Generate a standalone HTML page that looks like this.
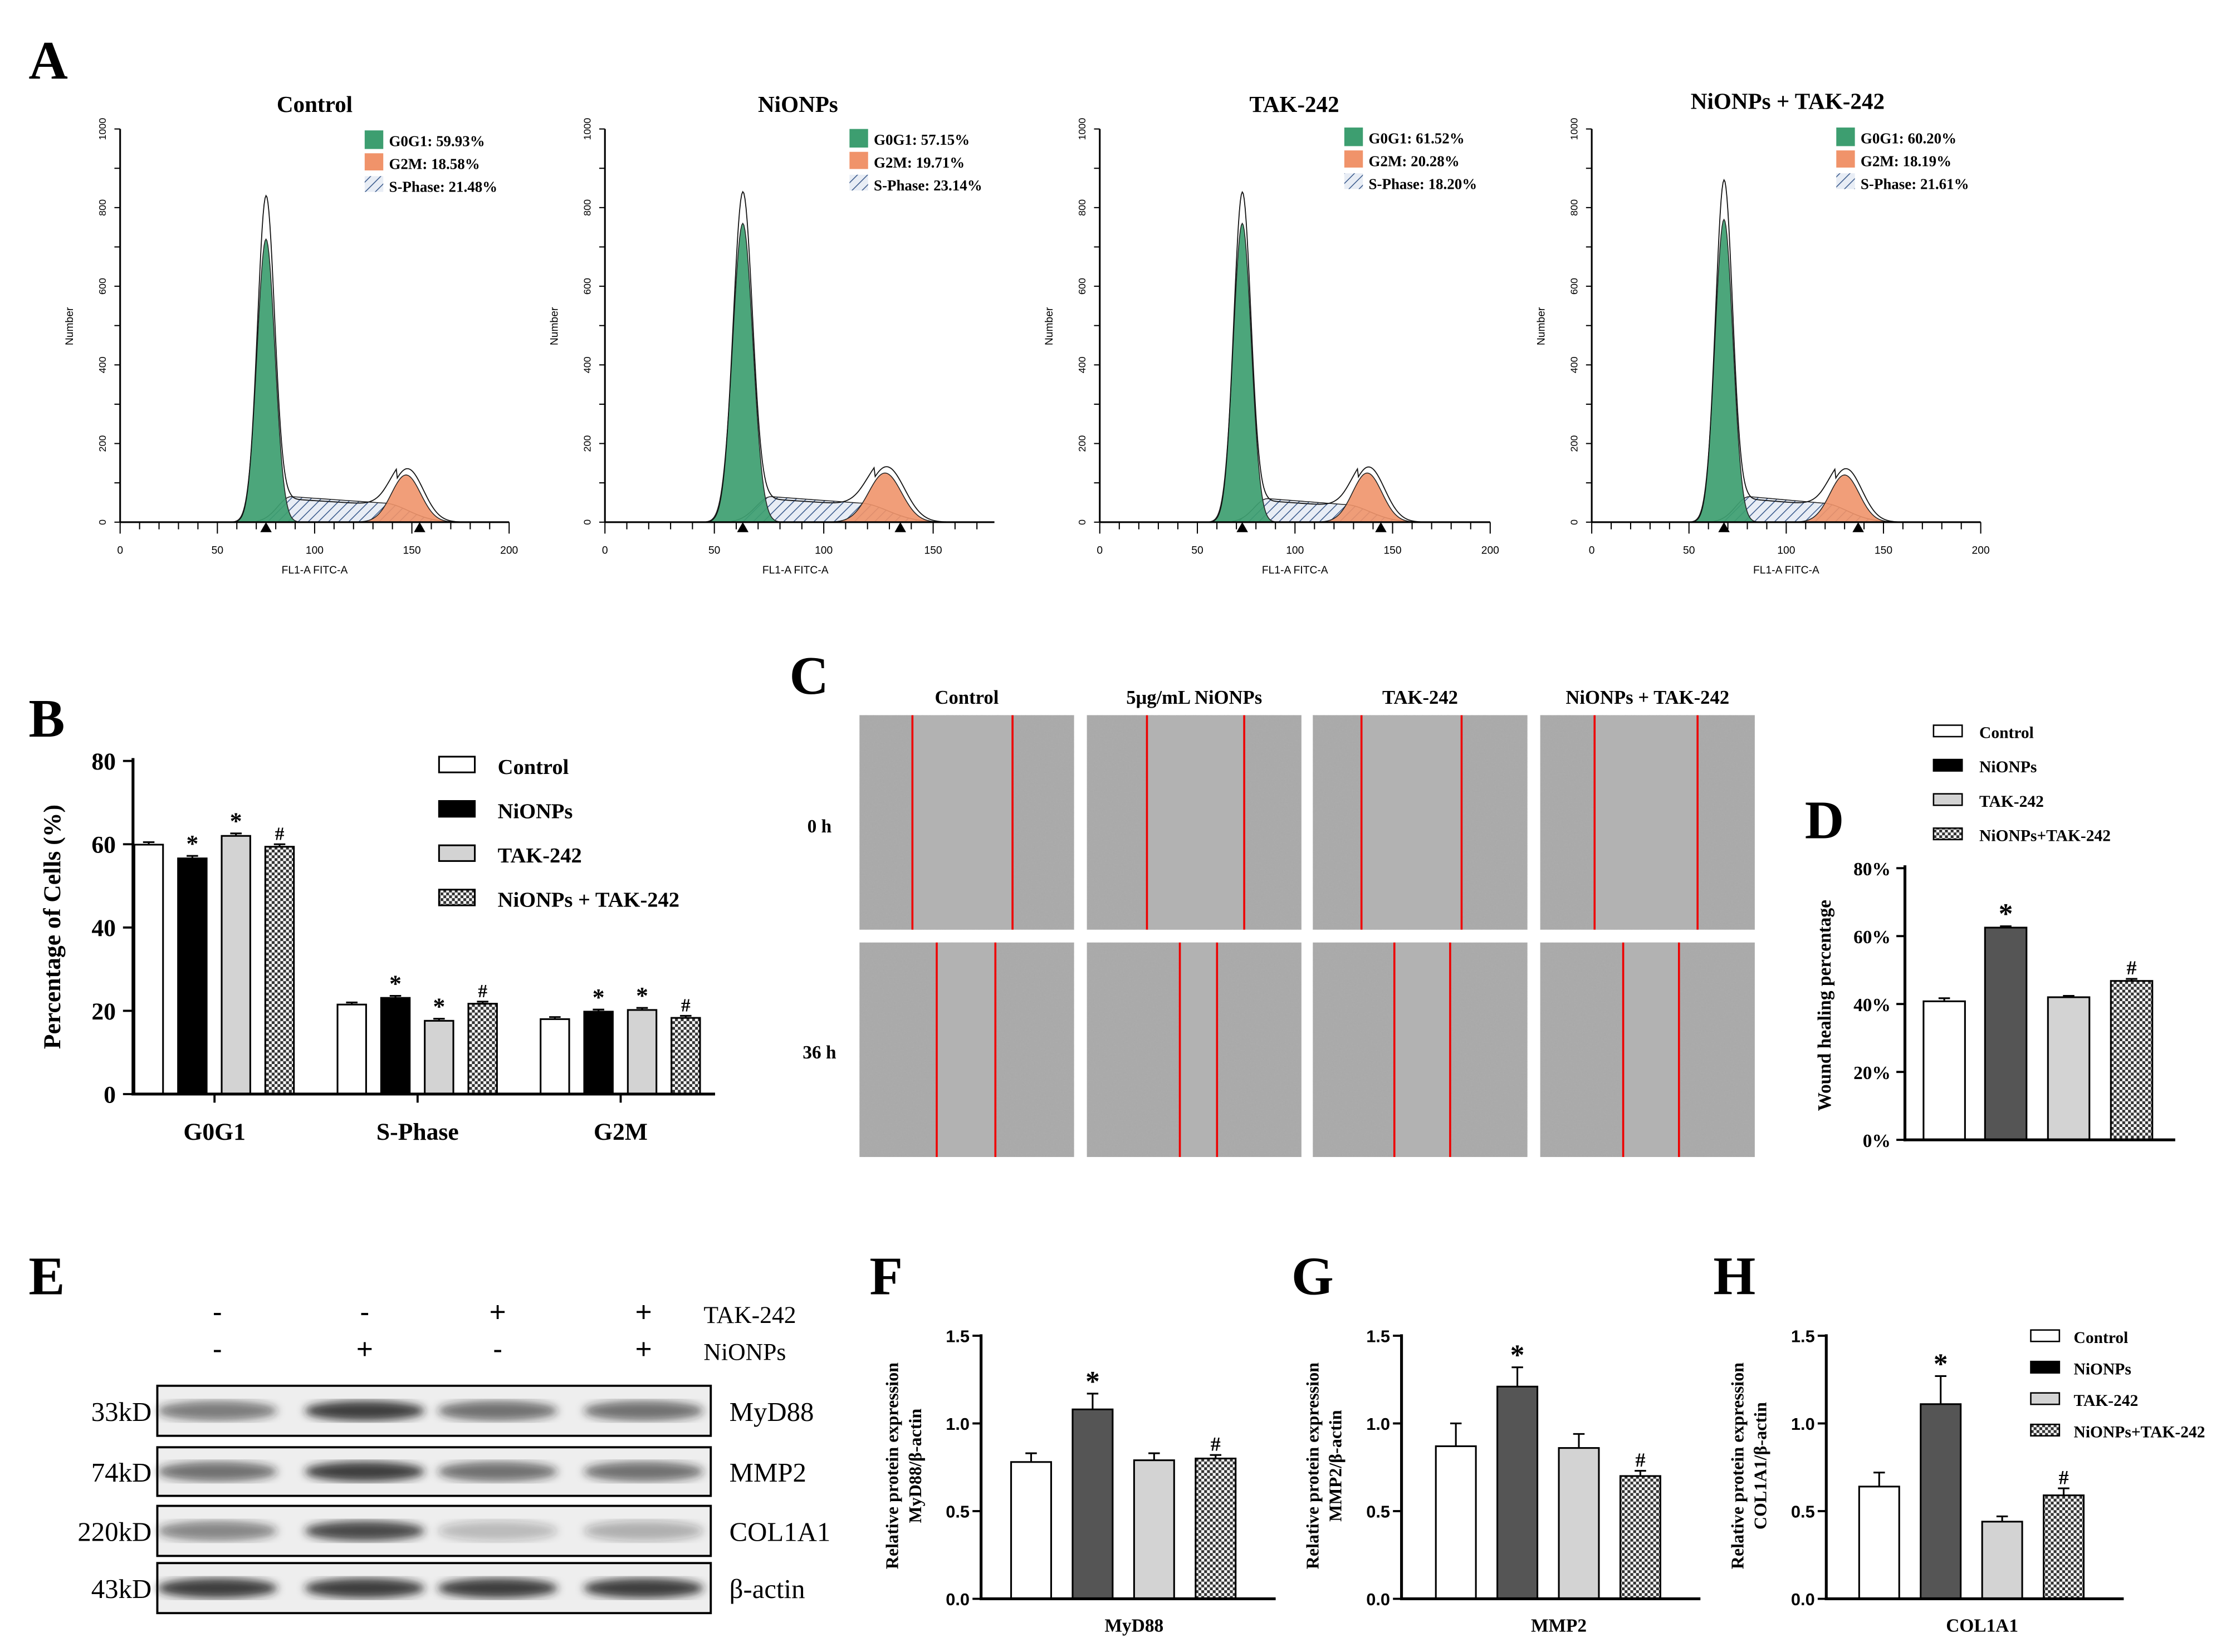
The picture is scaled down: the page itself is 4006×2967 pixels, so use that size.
<!DOCTYPE html>
<html><head><meta charset="utf-8">
<style>
html,body{margin:0;padding:0;background:#fff;}
svg{display:block;}
.s{font-family:"Liberation Sans",sans-serif;}
.sb{font-family:"Liberation Sans",sans-serif;font-weight:bold;}
.t{font-family:"Liberation Serif",serif;font-weight:bold;}
.n{font-family:"Liberation Serif",serif;font-weight:normal;}
</style></head>
<body>
<svg id="fig" width="4006" height="2967" viewBox="0 0 1560 1155" xmlns="http://www.w3.org/2000/svg">
<defs>
<pattern id="hatch" width="5" height="5" patternUnits="userSpaceOnUse" patternTransform="rotate(45)">
<rect width="5" height="5" fill="#e8edf5"/><line x1="0" y1="0" x2="0" y2="5" stroke="#3a5a8c" stroke-width="1.2"/></pattern>
<pattern id="check" width="4" height="4" patternUnits="userSpaceOnUse">
<rect width="4" height="4" fill="#fff"/><rect width="2" height="2" fill="#333"/><rect x="2" y="2" width="2" height="2" fill="#333"/></pattern>
<filter id="noise" x="0" y="0" width="1" height="1"><feTurbulence type="fractalNoise" baseFrequency="0.9" numOctaves="2" seed="3"/><feColorMatrix type="matrix" values="0 0 0 0 0.45 0 0 0 0 0.45 0 0 0 0 0.45 0 0 0 0.4 0"/></filter>
<filter id="blur"><feGaussianBlur stdDeviation="3"/></filter>
</defs>
<g id="root"></g>
</svg>
<script>
// ---------- data ----------
const histTitles=["Control","NiONPs","TAK-242","NiONPs + TAK-242"];
const g1Pct=["59.93%","57.15%","61.52%","60.20%"];
const g2Pct=["18.58%","19.71%","20.28%","18.19%"];
const sPct=["21.48%","23.14%","18.20%","21.61%"];
const g1Mean=[75,63,73,68];
const g1Height=[720,760,760,770];
const g1Outline=[820,830,830,860];
const g2Mean=[147,128,137,130];
const g2Height=[120,125,125,120];
const sLevel=[65,65,60,65];

const bCats=["G0G1","S-Phase","G2M"];
const bCtrl=[59.9,21.5,18.0];
const bNi=[56.6,23.1,19.8];
const bTak=[62.0,17.6,20.2];
const bCombo=[59.4,21.7,18.3];
const bErr=[0.6,0.5,0.5];
const bTicks=[0,20,40,60,80];

const dVals=[40.8,62.5,42.0,46.8];
const dErr=[0.9,0.4,0.4,0.6];
const dTicks=["0%","20%","40%","60%","80%"];

const fVals=[0.78,1.08,0.79,0.80]; const fErr=[0.05,0.09,0.04,0.02];
const gVals=[0.87,1.21,0.86,0.70]; const gErr=[0.13,0.11,0.08,0.03];
const hVals=[0.64,1.11,0.44,0.59]; const hErr=[0.08,0.16,0.03,0.04];
const wbTicks=["0.0","0.5","1.0","1.5"];

const NS="http://www.w3.org/2000/svg";
const root=document.getElementById('root');
function el(tag,attrs,parent,text){const e=document.createElementNS(NS,tag);for(const k in attrs)e.setAttribute(k,attrs[k]);if(text!==undefined)e.textContent=text;(parent||root).appendChild(e);return e;}
function label(txt,x,y,size,cls,anchor,name){const e=el('text',{x:x,y:y,'font-size':size,class:cls,'text-anchor':anchor||'start'},root,txt);

return e;}

// panel letters
[["A",20,55],["B",20,515],["C",552,485],["D",1262,586],["E",20,905],["F",608,905],["G",903,905],["H",1198,905]].forEach(p=>{
 label(p[0],p[1],p[2],38,'t','start','panel-label-'+p[0].toLowerCase());});

// ---------- Panel A ----------
const axX=[84,423,769,1113];
const axScale=[1.36,1.53,1.365,1.36];
const axMax=[200,178,200,200];
const xTickSets=[[0,50,100,150,200],[0,50,100,150],[0,50,100,150,200],[0,50,100,150,200]];
function gauss(x,m,s){return Math.exp(-0.5*((x-m)/s)**2);}
for(let i=0;i<4;i++){
 const g=el('g',{});
 
 
 const X=v=>axX[i]+v*axScale[i], Y=v=>365-v*0.275;
 const sx=v=>{const a=g1Mean[i]+13,b=g2Mean[i]-12;if(v<a)return sLevel[i]*gauss(v,a,7);if(v>b)return sLevel[i]*0.75*gauss(v,b,13);return sLevel[i]*(1-0.25*(v-a)/(b-a));};
 let sPath="M"+X(g1Mean[i]-5)+","+Y(0);
 for(let v=g1Mean[i]-5;v<=g2Mean[i]+25;v+=1)sPath+=" L"+X(v)+","+Y(sx(v));
 sPath+=" L"+X(g2Mean[i]+25)+","+Y(0)+"Z";
 el('path',{d:sPath,fill:'url(#hatch)',stroke:'#222','stroke-width':0.6},g);
 let p1="M"+X(g1Mean[i]-20)+","+Y(0);for(let v=g1Mean[i]-20;v<=g1Mean[i]+20;v+=0.5)p1+=" L"+X(v)+","+Y(g1Height[i]*gauss(v,g1Mean[i],4.6));
 el('path',{d:p1+"Z",fill:'#3d9e70','fill-opacity':0.92,stroke:'#222','stroke-width':0.6},g);
 let p2="M"+X(g2Mean[i]-25)+","+Y(0);for(let v=g2Mean[i]-25;v<=g2Mean[i]+25;v+=0.5)p2+=" L"+X(v)+","+Y(g2Height[i]*gauss(v,g2Mean[i],7.5));
 el('path',{d:p2+"Z",fill:'#f0936a','fill-opacity':0.9,stroke:'#222','stroke-width':0.6},g);
 // outline
 let o="M"+X(g1Mean[i]-20)+","+Y(0);
 for(let v=g1Mean[i]-20;v<=g2Mean[i]+30;v+=0.5){const y=g1Outline[i]*gauss(v,g1Mean[i],4.4)+Math.max(sx(v)*0.9, 0)*(v>g2Mean[i]-5?0.3:1)+(g2Height[i]+8)*gauss(v,g2Mean[i]+1,8);o+=" L"+X(v)+","+Y(y);}
 el('path',{d:o,fill:'none',stroke:'#111','stroke-width':0.7},g);
 // axes
 el('line',{x1:axX[i],y1:90,x2:axX[i],y2:365,stroke:'#000','stroke-width':1.2},g);
 el('line',{x1:axX[i],y1:365,x2:X(axMax[i]),y2:365,stroke:'#000','stroke-width':1.2},g);
 for(let v=0;v<=1000;v+=100){el('line',{x1:axX[i]-4,y1:Y(v),x2:axX[i],y2:Y(v),stroke:'#000','stroke-width':0.8},g);
  if(v%200==0){el('text',{x:axX[i]-10,y:Y(v),'font-size':7,class:'s','text-anchor':'middle',transform:`rotate(-90 ${axX[i]-10} ${Y(v)})`},g,v);}}
 for(let v=0;v<=axMax[i];v+=10){el('line',{x1:X(v),y1:365,x2:X(v),y2:v%50==0?373:370,stroke:'#000','stroke-width':0.8},g);}
 xTickSets[i].forEach(v=>el('text',{x:X(v),y:387,'font-size':7.5,class:'s','text-anchor':'middle'},g,v));
 el('text',{x:X(axMax[i]/2)+(i==1?-3:0),y:401,'font-size':7.5,class:'s','text-anchor':'middle'},g,'FL1-A FITC-A');
 el('text',{x:axX[i]-33,y:228,'font-size':7.5,class:'s','text-anchor':'middle',transform:`rotate(-90 ${axX[i]-33} 228)`},g,'Number');
 [g1Mean[i],g2Mean[i]+7].forEach(v=>el('path',{d:`M${X(v)-4},372 L${X(v)+4},372 L${X(v)},365Z`,fill:'#000'},g));
 el('text',{x:[220,558,905,1250][i],y:i==3?76:78,'font-size':16,class:'t','text-anchor':'middle'},g,histTitles[i]);
 const lx=axX[i]+171, ly=[90,89,88,88][i];
 el('rect',{x:lx,y:ly+1,width:13,height:13,fill:'#3d9e70'},g);
 el('rect',{x:lx,y:ly+17,width:13,height:12,fill:'#f0936a'},g);
 el('rect',{x:lx,y:ly+33,width:13,height:11,fill:'url(#hatch)'},g);
 el('text',{x:lx+17,y:ly+12,'font-size':10.5,class:'t'},g,'G0G1: '+g1Pct[i]);
 el('text',{x:lx+17,y:ly+28,'font-size':10.5,class:'t'},g,'G2M: '+g2Pct[i]);
 el('text',{x:lx+17,y:ly+44,'font-size':10.5,class:'t'},g,'S-Phase: '+sPct[i]);
}

// ---------- generic bar helpers ----------
const fills=['#fff','#000','#d3d3d3','url(#check)'];
const fillsD=['#fff','#555','#d3d3d3','url(#check)'];
function bar(x,w,y0,y1,fill,name){const r=el('rect',{x:x,y:y1,width:w,height:y0-y1,fill:fill,stroke:'#000','stroke-width':1.2});
 
 return r;}
function err(xc,yv,ye,cap){el('line',{x1:xc,y1:yv,x2:xc,y2:ye,stroke:'#000','stroke-width':1.2});el('line',{x1:xc-cap,y1:ye,x2:xc+cap,y2:ye,stroke:'#000','stroke-width':1.2});}

// ---------- Panel B ----------
{const Y=v=>765-v*(233/80);const gx=[94,236,378];const off=[0,30.5,61,91.5];
 const series=[bCtrl,bNi,bTak,bCombo];const marks=[["","*","*","#"],["","*","*","#"],["","*","*","#"]];
 for(let c=0;c<3;c++)for(let s=0;s<4;s++){const x=gx[c]+off[s],v=series[s][c];bar(x,20,765,Y(v),fills[s],'bar-'+bCats[c].toLowerCase()+'-'+s);
  err(x+10,Y(v),Y(v+bErr[c]),4);if(marks[c][s])label(marks[c][s],x+10,Y(v+bErr[c])-3,marks[c][s]=='*'?17:13,'t','middle','sig-mark');}
 el('line',{x1:93,y1:530,x2:93,y2:766,stroke:'#000','stroke-width':2});
 el('line',{x1:92,y1:765,x2:500,y2:765,stroke:'#000','stroke-width':2});
 bTicks.forEach(v=>{el('line',{x1:86,y1:Y(v),x2:93,y2:Y(v),stroke:'#000','stroke-width':1.5});label(v,81,Y(v)+6,17,'t','end','y-tick');});
 [150,292,434].forEach((p,i)=>{el('line',{x1:p,y1:765,x2:p,y2:771,stroke:'#000','stroke-width':1.5});label(bCats[i],p,797,17,'t','middle','x-label-'+bCats[i].toLowerCase());});
 const yt=label('Percentage of Cells (%)',42,648,17,'t','middle','y-axis-title');yt.setAttribute('transform','rotate(-90 42 648)');
 const ln=["Control","NiONPs","TAK-242","NiONPs + TAK-242"];
 ln.forEach((t,i)=>{const r=el('rect',{x:307,y:529+i*31,width:25,height:11,fill:fills[i],stroke:'#000','stroke-width':1.2});label(t,348,541+i*31,15,'t','start','legend-entry');});
}

// ---------- Panel C ----------
{const cols=[601,760,918,1077];const rows=[500,659];const W=150,H=150;
 const lines=[[[638,708],[802,870],[952,1022],[1115,1187]],[[655,696],[825,851],[975,1014],[1135,1174]]];
 ["Control","5μg/mL NiONPs","TAK-242","NiONPs + TAK-242"].forEach((t,i)=>label(t,cols[i]+75,492,13.5,'t','middle','column-title'));
 label('0 h',573,582,13,'t','middle','row-label-0h');label('36 h',573,740,13,'t','middle','row-label-36h');
 for(let r=0;r<2;r++)for(let c=0;c<4;c++){const g=el('g',{});
  el('rect',{x:cols[c],y:rows[r],width:W,height:H,fill:'#a8a8a8'},g);
  el('rect',{x:cols[c],y:rows[r],width:W,height:H,fill:'#000',filter:'url(#noise)'},g);
  const [a,b]=lines[r][c];
  el('rect',{x:a,y:rows[r],width:b-a,height:H,fill:'#b2b2b2'},g);
  el('line',{x1:a,y1:rows[r],x2:a,y2:rows[r]+H,stroke:'#e00','stroke-width':1.4},g);
  el('line',{x1:b,y1:rows[r],x2:b,y2:rows[r]+H,stroke:'#e00','stroke-width':1.4},g);}
}

// ---------- Panel D ----------
{const Y=v=>797-v*(190/80);const bx=[1345,1388,1432,1476];
 dVals.forEach((v,i)=>{bar(bx[i],29,797,Y(v),fillsD[i],'bar-wound-'+i);err(bx[i]+14.5,Y(v),Y(v+dErr[i]),4);});
 label('*',bx[1]+14.5,Y(63)-2,20,'t','middle','sig-mark');label('#',bx[3]+14.5,Y(47.5)-3,14,'t','middle','sig-mark');
 el('line',{x1:1332,y1:605,x2:1332,y2:798,stroke:'#000','stroke-width':2});el('line',{x1:1331,y1:797,x2:1521,y2:797,stroke:'#000','stroke-width':2});
 dTicks.forEach((t,i)=>{const y=Y(i*20);el('line',{x1:1326,y1:y,x2:1332,y2:y,stroke:'#000','stroke-width':1.5});label(t,1322,y+5,13,'t','end','y-tick');});
 const yt=label('Wound healing percentage',1280,703,13,'t','middle','y-axis-title');yt.setAttribute('transform','rotate(-90 1280 703)');
 ["Control","NiONPs","TAK-242","NiONPs+TAK-242"].forEach((t,i)=>{const r=el('rect',{x:1352,y:507+i*24,width:20,height:8,fill:fillsD[i]=='#555'?'#000':fillsD[i],stroke:'#000','stroke-width':1});label(t,1384,516+i*24,11.5,'t','start','legend-entry');});
}

// ---------- Panel E ----------
{const cx=[152,255,348,450];
 const tak=["-","-","+","+"],ni=["-","+","-","+"];
 cx.forEach((x,i)=>{label(tak[i],x,924,20,'s','middle','tak-sign');label(ni[i],x,950,20,'s','middle','nionps-sign');});
 label('TAK-242',492,925,17,'n','start','row-label-tak242');label('NiONPs',492,951,17,'n','start','row-label-nionps');
 const rows=[[969,35,"33kD","MyD88",[0.55,0.85,0.6,0.6]],[1012,34,"74kD","MMP2",[0.6,0.85,0.6,0.6]],[1053,35,"220kD","COL1A1",[0.5,0.8,0.25,0.3]],[1093,35,"43kD","β-actin",[0.85,0.85,0.85,0.85]]];
 rows.forEach(r=>{const g=el('g',{});
  el('rect',{x:110,y:r[0],width:387,height:r[1],fill:'#eeeeee',stroke:'#000','stroke-width':1.5},g);
  cx.forEach((x,i)=>el('ellipse',{cx:x,cy:r[0]+r[1]/2,rx:42,ry:7,fill:'#222','fill-opacity':r[4][i],filter:'url(#blur)'},g));
  label(r[2],106,r[0]+r[1]/2+7,19,'n','end','kd-label');
  label(r[3],510,r[0]+r[1]/2+7,19,'n','start','protein-label');});
}

// ---------- Panels F,G,H ----------
function wbChart(ax,bx,vals,errs,xl,yl2,name){
 const Y=v=>1118-v*(184/1.5);
 vals.forEach((v,i)=>{bar(bx+i*43,28,1118,Y(v),fillsD[i],name+'-bar-'+i);err(bx+i*43+14,Y(v),Y(v+errs[i]),4);});
 label('*',bx+43+14,Y(vals[1]+errs[1])-2,20,'t','middle','sig-mark');label('#',bx+129+14,Y(vals[3]+errs[3])-3,14,'t','middle','sig-mark');
 el('line',{x1:ax,y1:933,x2:ax,y2:1119,stroke:'#000','stroke-width':2});el('line',{x1:ax-1,y1:1118,x2:bx+185,y2:1118,stroke:'#000','stroke-width':2});
 wbTicks.forEach((t,i)=>{const y=Y(i*0.5);el('line',{x1:ax-6,y1:y,x2:ax,y2:y,stroke:'#000','stroke-width':1.5});label(t,ax-8,y+4.5,12,'sb','end','y-tick');});
 label(xl,bx+86,1141,13,'t','middle','x-label');
 const a=label('Relative protein expression',ax-58,1025,12.5,'t','middle','y-axis-title');a.setAttribute('transform',`rotate(-90 ${ax-58} 1025)`);
 const b=label(yl2,ax-42,1025,12.5,'t','middle','y-axis-title-2');b.setAttribute('transform',`rotate(-90 ${ax-42} 1025)`);
}
wbChart(686,707,fVals,fErr,'MyD88','MyD88/β-actin','myd88');
wbChart(980,1004,gVals,gErr,'MMP2','MMP2/β-actin','mmp2');
wbChart(1277,1300,hVals,hErr,'COL1A1','COL1A1/β-actin','col1a1');
["Control","NiONPs","TAK-242","NiONPs+TAK-242"].forEach((t,i)=>{const r=el('rect',{x:1420,y:930+i*22,width:20,height:8,fill:fillsD[i]=='#555'?'#000':fillsD[i],stroke:'#000','stroke-width':1});label(t,1450,939+i*22,11.5,'t','start','legend-entry');});
</script>
</body></html>
